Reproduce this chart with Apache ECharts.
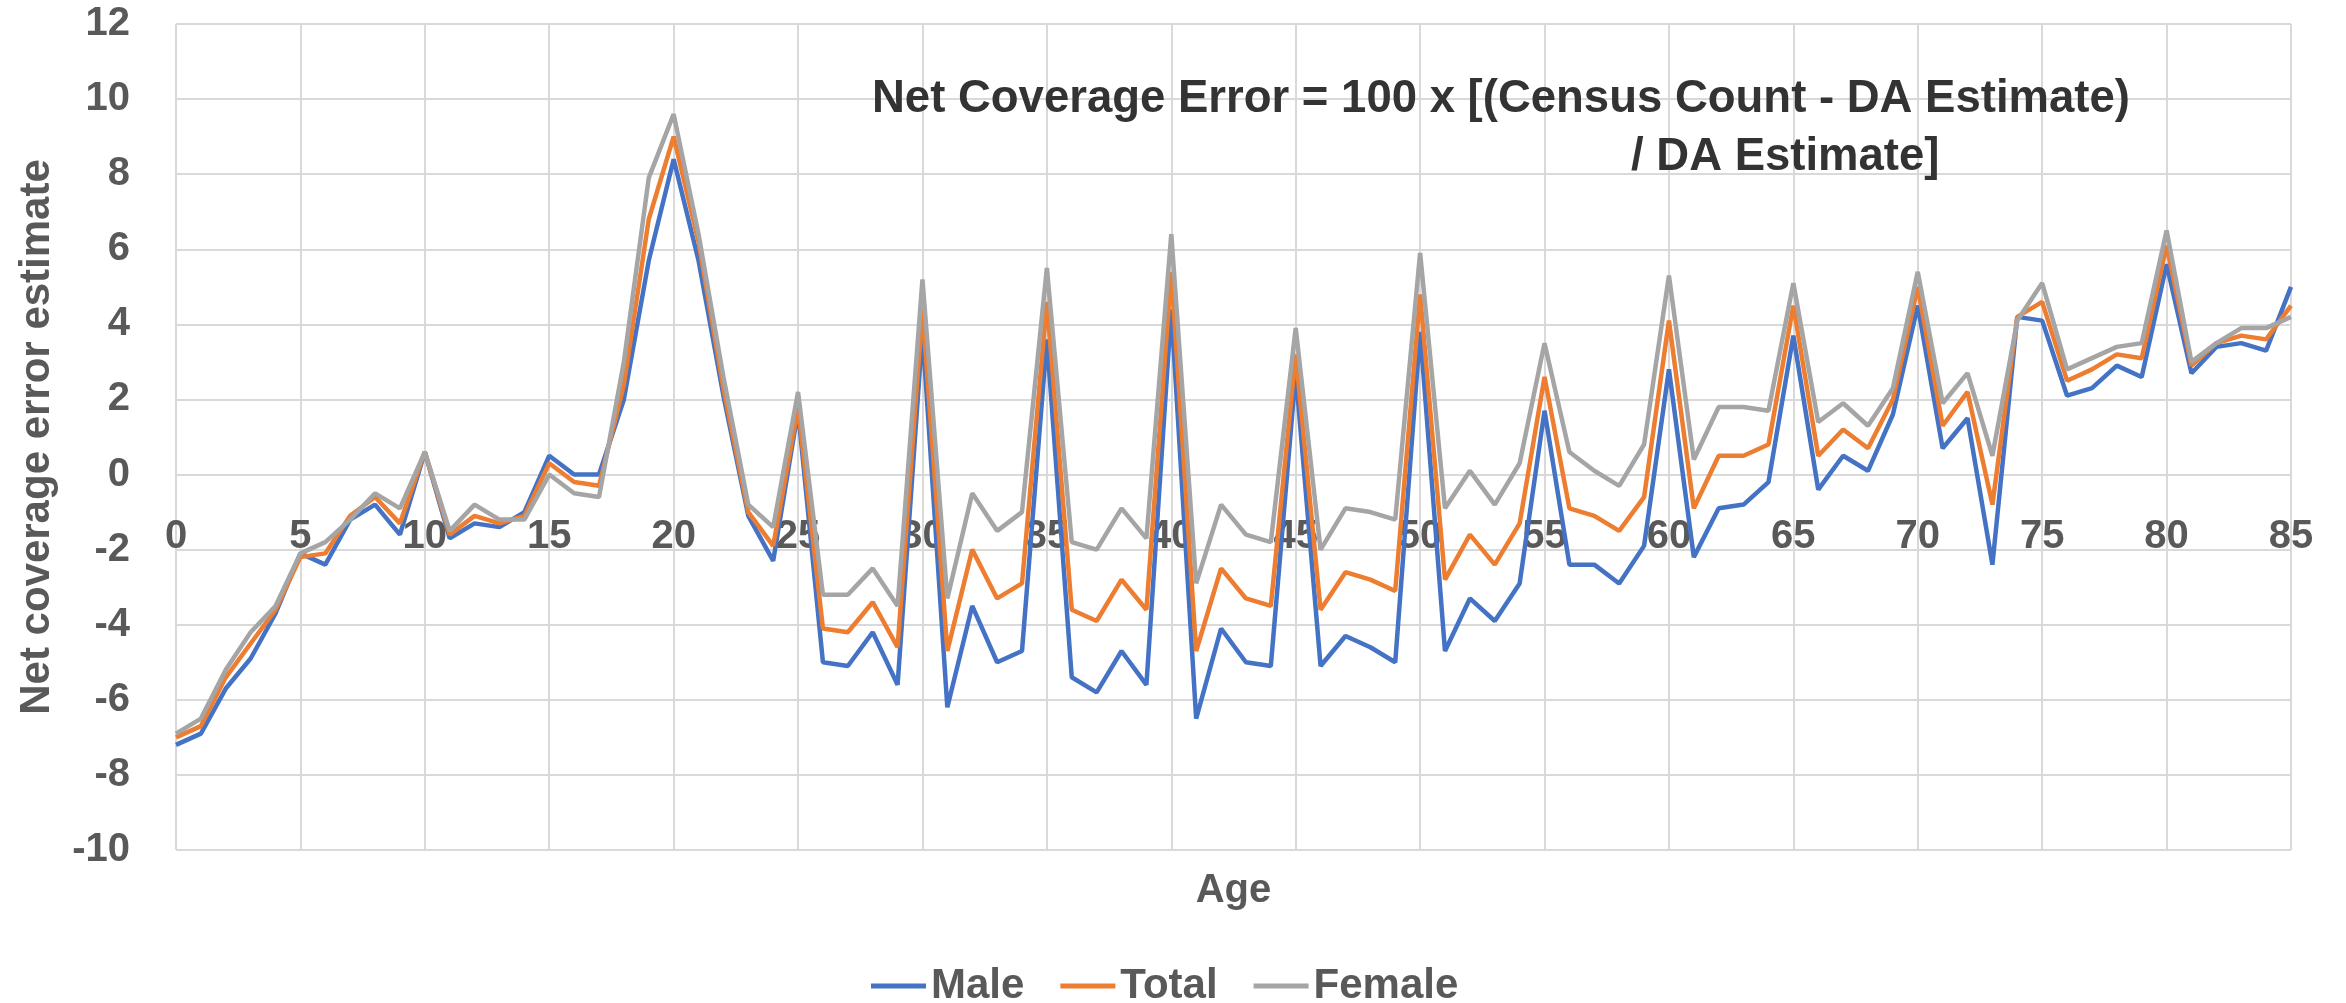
<!DOCTYPE html>
<html>
<head>
<meta charset="utf-8" />
<title>Net coverage error by age</title>
<script src="https://cdn.jsdelivr.net/npm/echarts@6/dist/echarts.min.js"></script>
<style>
  html, body { margin: 0; padding: 0; background: #fff; }
  #chartmain { width: 2346px; height: 1003px; }
</style>
</head>
<body>
<div id="chartmain"></div>
<script type="text/javascript">
  // ages 0..85
  var ages = [0, 1, 2, 3, 4, 5, 6, 7, 8, 9,
    10, 11, 12, 13, 14, 15, 16, 17, 18, 19,
    20, 21, 22, 23, 24, 25, 26, 27, 28, 29,
    30, 31, 32, 33, 34, 35, 36, 37, 38, 39,
    40, 41, 42, 43, 44, 45, 46, 47, 48, 49,
    50, 51, 52, 53, 54, 55, 56, 57, 58, 59,
    60, 61, 62, 63, 64, 65, 66, 67, 68, 69,
    70, 71, 72, 73, 74, 75, 76, 77, 78, 79,
    80, 81, 82, 83, 84, 85];

  var male = [-7.2, -6.9, -5.7, -4.9, -3.7, -2.1, -2.4, -1.2, -0.8, -1.6,
    0.6, -1.7, -1.3, -1.4, -1.0, 0.5, 0.0, 0.0, 2.0, 5.7,
    8.4, 5.7, 2.1, -1.1, -2.3, 1.7, -5.0, -5.1, -4.2, -5.6,
    3.8, -6.2, -3.5, -5.0, -4.7, 3.6, -5.4, -5.8, -4.7, -5.6,
    4.4, -6.5, -4.1, -5.0, -5.1, 2.7, -5.1, -4.3, -4.6, -5.0,
    3.8, -4.7, -3.3, -3.9, -2.9, 1.7, -2.4, -2.4, -2.9, -1.9,
    2.8, -2.2, -0.9, -0.8, -0.2, 3.7, -0.4, 0.5, 0.1, 1.6,
    4.5, 0.7, 1.5, -2.4, 4.2, 4.1, 2.1, 2.3, 2.9, 2.6,
    5.6, 2.7, 3.4, 3.5, 3.3, 5.0];

  var total = [-7.0, -6.7, -5.4, -4.5, -3.6, -2.2, -2.1, -1.1, -0.6, -1.3,
    0.6, -1.6, -1.1, -1.3, -1.1, 0.3, -0.2, -0.3, 2.4, 6.8,
    9.0, 6.2, 2.3, -1.0, -1.9, 1.8, -4.1, -4.2, -3.4, -4.6,
    4.4, -4.7, -2.0, -3.3, -2.9, 4.6, -3.6, -3.9, -2.8, -3.6,
    5.4, -4.7, -2.5, -3.3, -3.5, 3.2, -3.6, -2.6, -2.8, -3.1,
    4.8, -2.8, -1.6, -2.4, -1.3, 2.6, -0.9, -1.1, -1.5, -0.6,
    4.1, -0.9, 0.5, 0.5, 0.8, 4.5, 0.5, 1.2, 0.7, 2.0,
    5.0, 1.3, 2.2, -0.8, 4.2, 4.6, 2.5, 2.8, 3.2, 3.1,
    6.1, 2.9, 3.5, 3.7, 3.6, 4.5];

  var female = [-6.9, -6.5, -5.2, -4.2, -3.5, -2.1, -1.8, -1.2, -0.5, -0.9,
    0.6, -1.5, -0.8, -1.2, -1.2, 0.0, -0.5, -0.6, 3.0, 7.9,
    9.6, 6.4, 2.6, -0.8, -1.4, 2.2, -3.2, -3.2, -2.5, -3.5,
    5.2, -3.3, -0.5, -1.5, -1.0, 5.5, -1.8, -2.0, -0.9, -1.7,
    6.4, -2.9, -0.8, -1.6, -1.8, 3.9, -2.0, -0.9, -1.0, -1.2,
    5.9, -0.9, 0.1, -0.8, 0.3, 3.5, 0.6, 0.1, -0.3, 0.8,
    5.3, 0.4, 1.8, 1.8, 1.7, 5.1, 1.4, 1.9, 1.3, 2.3,
    5.4, 1.9, 2.7, 0.5, 4.1, 5.1, 2.8, 3.1, 3.4, 3.5,
    6.5, 3.0, 3.5, 3.9, 3.9, 4.2];

  var seriesNames = ['Male', 'Total', 'Female'];
  var seriesColors = ['#4472C4', '#ED7D31', '#A5A5A5'];
  var titleLine1 = 'Net Coverage Error = 100 x [(Census Count - DA Estimate)';
  var titleLine2 = '/ DA Estimate]';

  var font = 'Liberation Sans, Arial, sans-serif';
  var gridColor = '#d9d9d9';
  var textColor = '#595959';

  var myChart = echarts.init(document.getElementById('chartmain'));

  function makeSeries(i, values) {
    return {
      name: seriesNames[i],
      type: 'line',
      data: values,
      symbol: 'none',
      animation: false,
      lineStyle: { color: seriesColors[i], width: 4.5 },
      itemStyle: { color: seriesColors[i] }
    };
  }

  // x axis sits on the y=0 line: plot is 826px tall for a -10..12 range
  var zeroOffset = -Math.round(826 * 10 / 22);

  var option = {
    backgroundColor: '#fff',
    animation: false,
    title: [
      {
        text: titleLine1, left: 872, top: 76, padding: 0,
        textStyle: { fontFamily: font, fontSize: 45.5, fontWeight: 'bold', color: '#333' }
      },
      {
        text: titleLine2, left: 1631, top: 134, padding: 0,
        textStyle: { fontFamily: font, fontSize: 45.5, fontWeight: 'bold', color: '#333' }
      }
    ],
    legend: {
      data: seriesNames,
      icon: 'rect',
      left: 866,
      top: 960,
      itemWidth: 55,
      itemHeight: 5,
      itemGap: 36,
      textStyle: { fontFamily: font, fontSize: 42, fontWeight: 'bold', color: textColor }
    },
    grid: { left: 176, right: 55, top: 24, bottom: 153, outerBoundsMode: 'none', containLabel: false },
    xAxis: {
      type: 'category',
      data: ages,
      boundaryGap: false,
      offset: zeroOffset,
      name: 'Age',
      nameLocation: 'middle',
      nameGap: 396,
      nameTextStyle: { fontFamily: font, fontSize: 40, fontWeight: 'bold', color: textColor },
      axisLine: { show: false, onZero: false },
      axisTick: { show: false },
      axisLabel: {
        interval: 4, margin: 42,
        fontFamily: font, fontSize: 40, fontWeight: 'bold', color: textColor
      },
      splitLine: { show: true, interval: 4, lineStyle: { color: gridColor, width: 2 } }
    },
    yAxis: {
      type: 'value',
      min: -10,
      max: 12,
      interval: 2,
      name: 'Net coverage error estimate',
      nameLocation: 'middle',
      nameGap: 118,
      nameTextStyle: { fontFamily: font, fontSize: 42, fontWeight: 'bold', color: textColor },
      axisLine: { show: false },
      axisTick: { show: false },
      axisLabel: { margin: 46, fontFamily: font, fontSize: 40, fontWeight: 'bold', color: textColor },
      splitLine: { show: true, lineStyle: { color: gridColor, width: 2 } }
    },
    series: [
      makeSeries(0, male),
      makeSeries(1, total),
      makeSeries(2, female)
    ]
  };
  myChart.setOption(option);
</script>
</body>
</html>
